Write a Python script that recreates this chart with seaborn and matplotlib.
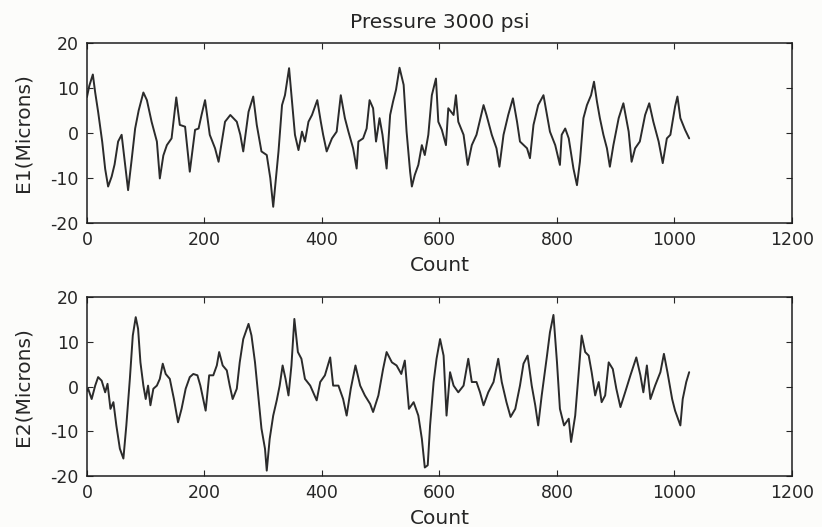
import numpy as np
import pandas as pd
import matplotlib
matplotlib.use("Agg")
import matplotlib.pyplot as plt
import seaborn as sns

# E1 trace (count, microns)
e1_count = [0, 4, 10, 14, 19, 26, 31, 36, 42, 47, 53, 59, 64, 70, 76, 82, 88, 96,
            102, 110, 119, 124, 130, 136, 144, 152, 158, 167, 175, 184, 190, 195,
            201, 209, 218, 224, 235, 244, 255, 261, 266, 275, 283, 289, 297, 306,
            312, 317, 326, 332, 337, 344, 349, 354, 360, 366, 371, 377, 383, 392,
            398, 402, 408, 417, 425, 432, 439, 445, 453, 459, 462, 470, 476, 481,
            487, 492, 498, 503, 510, 516, 521, 526, 532, 539, 544, 550, 553, 558,
            564, 570, 575, 581, 587, 594, 598, 604, 611, 615, 624, 628, 632, 641,
            648, 655, 663, 675, 680, 689, 697, 702, 709, 717, 725, 732, 737, 749,
            754, 760, 768, 777, 783, 788, 797, 805, 808, 814, 820, 828, 834, 839,
            845, 851, 858, 863, 868, 873, 879, 885, 890, 896, 905, 913, 922, 927,
            933, 941, 950, 957, 964, 973, 980, 987, 993, 1001, 1005, 1010, 1018, 1025]
e1_val = [8, 10.5, 13, 9, 4.7, -2, -8, -11.9, -9.7, -7, -1.9, -0.4, -6, -12.7, -6, 1, 5, 9.0,
          7.3, 2.5, -1.9, -10.1, -5, -2.7, -1.2, 7.9, 1.8, 1.4, -8.6, 0.7, 1.0, 4,
          7.3, -0.4, -3.4, -6.4, 2.5, 4.0, 2.5, -0.4, -4.1, 4.7, 8.1, 1.8, -4.1, -4.9,
          -10, -16.4, -4.1, 6.2, 8.4, 14.4, 7.0, -0.4, -3.8, 0.3, -1.9, 2.5, 4.0, 7.3,
          2.5, -0.4, -4.1, -1.2, 0.3, 8.4, 3.3, 0.3, -3.4, -7.9, -1.9, -1.2, 1.0, 7.3,
          5.5, -1.9, 3.3, -0.4, -7.9, 4.0, 7.0, 9.6, 14.5, 10.7, 0.3, -8.6, -11.9, -9.3,
          -7.1, -2.7, -4.9, -0.4, 8.4, 12.1, 2.5, 0.7, -2.7, 5.5, 4.0, 8.4, 2.5, -0.4,
          -7.1, -2.7, -0.4, 6.2, 4.0, -0.4, -3.4, -7.5, -0.4, 4.0, 7.7, 2.5, -1.9, -3.4,
          -5.6, 1.8, 6.2, 8.4, 4.0, 0.3, -2.7, -7.1, -0.4, 1.0, -1.2, -7.9, -11.6, -6.4,
          3.3, 6.2, 8.4, 11.4, 7.0, 3.3, -0.4, -3.4, -7.5, -2.7, 3.3, 6.6, 0.3, -6.4,
          -3.4, -1.9, 4.0, 6.6, 2.5, -1.9, -6.7, -1.2, -0.4, 5.9, 8.1, 3.3, 0.7, -1.2]

# E2 trace
e2_count = [0, 2, 8, 14, 19, 25, 31, 35, 40, 45, 50, 56, 62, 67, 73, 78, 83, 87, 91, 96,
            100, 104, 108, 113, 119, 124, 129, 134, 141, 148, 155, 161, 168, 175, 181,
            188, 193, 199, 202, 208, 215, 221, 225, 231, 238, 243, 248, 255, 260, 266,
            275, 280, 286, 292, 297, 303, 306, 311, 317, 323, 328, 333, 338, 343, 348,
            353, 359, 365, 371, 380, 385, 391, 397, 405, 414, 419, 428, 436, 442, 449,
            457, 465, 473, 482, 487, 496, 504, 510, 519, 527, 535, 541, 548, 556, 564,
            570, 575, 580, 584, 590, 595, 601, 607, 612, 618, 624, 632, 641, 649, 655,
            663, 669, 675, 683, 692, 700, 706, 714, 721, 729, 737, 743, 750, 757, 763,
            768, 774, 783, 788, 794, 800, 805, 812, 820, 824, 831, 837, 842, 848, 854,
            859, 865, 871, 876, 882, 888, 895, 901, 908, 916, 925, 935, 942, 947, 953,
            959, 967, 976, 982, 988, 996, 1001, 1010, 1014, 1020, 1025]
e2_val = [-1, -0.5, -2.8, 0.2, 2.1, 1.3, -1.3, 0.6, -5.0, -3.5, -8.7, -13.9, -16.1, -8.7,
          1.7, 11.4, 15.5, 12.9, 5.4, 0.2, -2.8, 0.2, -4.2, -0.5, 0.2, 1.7, 5.1, 2.8, 1.7,
          -2.8, -8.0, -5.0, -0.5, 2.1, 2.8, 2.5, 0.2, -3.5, -5.4, 2.5, 2.5, 4.7, 7.7, 4.7,
          3.6, 0.2, -2.8, -0.5, 5.4, 10.6, 14.0, 11.4, 5.4, -2.8, -9.4, -13.9, -18.8,
          -11.7, -6.5, -3.1, 0.2, 4.7, 1.7, -2.0, 4.7, 15.1, 7.7, 6.2, 1.7, 0.2, -1.3,
          -3.1, 1.0, 2.5, 6.5, 0.2, 0.2, -2.8, -6.5, -0.5, 4.7, 0.2, -2.0, -3.9, -5.7,
          -2.0, 3.9, 7.7, 5.4, 4.7, 2.8, 5.8, -5.0, -3.5, -6.5, -11.7, -18.1, -17.6,
          -8.7, 1.0, 6.2, 10.6, 6.9, -6.5, 3.2, 0.2, -1.3, 0.2, 6.2, 1.0, 1.0, -1.3,
          -4.2, -1.3, 1.0, 6.2, 1.0, -3.5, -6.8, -5.0, 0.2, 5.1, 6.9, 0.2, -4.2, -8.7,
          -2.0, 6.9, 12.1, 16.0, 5.4, -5.0, -8.7, -7.2, -12.4, -6.5, 3.2, 11.4, 7.7,
          6.9, 3.2, -2.0, 1.0, -3.5, -2.0, 5.4, 3.9, -0.5, -4.6, -1.3, 2.5, 6.5, 2.5,
          -1.3, 4.7, -2.8, 0.2, 3.2, 7.3, 3.2, -2.8, -5.4, -8.7, -2.8, 1.0, 3.2]

x_ticks = [0, 200, 400, 600, 800, 1000, 1200]
y_ticks = [-20, -10, 0, 10, 20]

sns.set_style("ticks")
plt.rcParams["font.family"] = ["DejaVu Sans"]

fig = plt.figure(figsize=(8.22, 5.27), dpi=100)
fig.patch.set_facecolor("#fcfcfa")
ax1 = fig.add_axes([0.1058, 0.5769, 0.8577, 0.3415])
ax2 = fig.add_axes([0.1058, 0.0968, 0.8577, 0.3396])

panels = [(ax1, e1_count, e1_val, "E1(Microns)"),
          (ax2, e2_count, e2_val, "E2(Microns)")]
for ax, cnt, val, lab in panels:
    df = pd.DataFrame({"Count": cnt, "val": val})
    sns.lineplot(data=df, x="Count", y="val", ax=ax, color="#2b2b2b", linewidth=1.4)
    ax.set_facecolor("#fcfcfa")
    ax.set_xlim(0, 1200)
    ax.set_ylim(-20, 20)
    ax.set_xticks(x_ticks)
    ax.set_yticks(y_ticks)
    ax.set_xticklabels([str(t) for t in x_ticks], fontsize=12.5)
    ax.set_yticklabels([str(t) for t in y_ticks], fontsize=12.5)
    ax.tick_params(direction="in", length=4, top=True, right=True, width=0.8, pad=6)
    ax.set_xlabel("Count", fontsize=14.5, labelpad=5)
    ax.set_ylabel(lab, fontsize=14.5, labelpad=13)
    for s in ax.spines.values():
        s.set_visible(True)
        s.set_linewidth(1.1)
        s.set_color("#1e1e1e")

ax1.set_title("Pressure 3000 psi", fontsize=14.5, pad=11)

fig.savefig("out.png", dpi=100, facecolor=fig.get_facecolor())
